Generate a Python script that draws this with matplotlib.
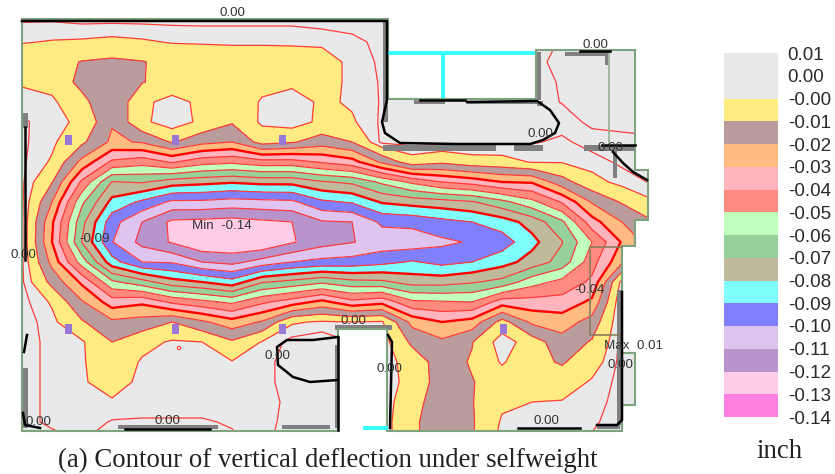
import matplotlib
matplotlib.use('Agg')
import matplotlib.pyplot as plt
import numpy as np
from matplotlib.patches import Polygon, Rectangle

# plan positions of the sampled slab points (picture pixels)
grid_x = [22, 52, 82, 112, 142, 172, 202, 232, 262, 292, 322, 352, 382, 412, 442, 472, 502, 532, 562, 592, 622, 652]
grid_y = [18, 42, 62, 82, 102, 122, 142, 162, 182, 202, 222, 242, 262, 282, 302, 322, 342, 362, 382, 402, 422, 442]

# downward deflection in 0.01 inch, one list per grid_x, top to bottom
sag_columns = [
    [-0.6, -0.05, 0.6, 0.1, -0.3, -0.6, -0.6, -0.6, -0.6, -0.6, -0.6, -0.6, -0.6, -0.6, -0.7, -0.8, -0.8, -0.8, -0.8, -0.8, -0.8, -1],
    [-0.6, 0.05, 0.6, 0.3, -0.15, -0.2, -0.15, 0.1, 0.95, 2.0, 2.85, 3.0, 2.3, 1.3, 0.1, -0.2, -0.3, -0.3, -0.3, -0.3, -0.3, -0.9],
    [-0.7, 0.1, 1.05, 1.3, 0.7, 0.15, 0.8, 2.3, 4.2, 5.8, 6.7, 7.05, 5.5, 3.2, 1.9, 0.9, -0.1, -0.1, -0.1, -0.1, -0.2, -0.5],
    [-0.7, 0.2, 1.2, 1.7, 1.9, 1.9, 2.2, 4.2, 7.05, 8.3, 9.6, 9.95, 8.6, 5.8, 3.5, 1.8, 1.0, 0.7, 0.4, -0.1, -0.55, -1],
    [-0.7, 0.1, 1.05, 1.05, 0.2, 0.2, 1.9, 4.6, 6.9, 9.2, 11.0, 11.3, 10.0, 6.6, 3.2, 1.6, 0.3, -0.1, -0.2, -0.3, -0.55, -1],
    [-0.7, -0.05, 0.7, 0.6, -0.3, -0.45, 0.9, 3.9, 7.5, 10.2, 12.2, 12.1, 10.1, 7.6, 4.2, 1.0, -0.1, -0.2, -0.2, -0.3, -0.55, -1],
    [-0.7, -0.1, 0.8, 0.8, 0.2, 0.2, 1.7, 4.6, 7.7, 10.2, 12.3, 12.9, 11.0, 8.0, 4.7, 1.8, 0.0, -0.1, -0.2, -0.3, -0.55, -1],
    [-0.7, -0.1, 0.5, 0.6, 0.7, 0.9, 2.0, 4.8, 7.9, 10.4, 12.4, 12.9, 11.3, 8.6, 5.2, 2.6, 0.85, -0.05, -0.2, -0.3, -0.45, -0.6],
    [-0.7, -0.1, 0.5, 0.3, -0.1, -0.15, 0.6, 4.4, 7.7, 10.3, 12.2, 12.9, 10.6, 7.1, 4.2, 1.9, -0.05, -0.2, -0.2, -0.2, -0.2, -0.3],
    [-0.7, -0.1, 0.4, 0.2, -0.4, -0.4, 0.9, 4.4, 7.7, 10.2, 12.0, 12.1, 10.0, 6.7, 3.5, 0.1, -0.7, -0.9, -0.9, -0.7, -0.8, -0.9],
    [-0.8, -0.15, 0.4, 0.4, 0.15, 0.2, 1.5, 3.9, 7.1, 9.2, 11.1, 11.4, 9.7, 6.2, 2.7, -0.1, -0.9, -0.9, -0.9, -0.9, -0.9, -0.9],
    [-0.9, -0.3, -0.2, -0.2, -0.1, 0.1, 1.0, 3.4, 6.8, 8.9, 11.0, 11.05, 9.6, 6.7, 3.7, 0.0, -0.5, -0.5, -0.5, -0.5, -0.5, -0.5],
    [-1, -0.7, -0.6, -0.55, -0.55, -0.6, -0.65, 1.8, 5.8, 7.9, 9.8, 10.6, 9.3, 6.8, 3.3, -0.1, -0.4, -0.4, -0.4, -0.4, -0.4, -0.4],
    [-1, -1, -1, -1, -1, -0.8, -0.7, 0.4, 4.8, 7.6, 9.7, 10.6, 8.9, 7.4, 4.8, 2.3, 1.2, 0.4, 0.3, 0.6, 0.8, 0.8],
    [-1, -1, -1, -1, -1, -0.8, -0.7, 0.8, 4.0, 7.4, 9.3, 10.2, 9.3, 7.4, 4.9, 3.0, 1.8, 1.5, 1.5, 1.6, 1.6, 1.6],
    [-1, -1, -1, -1, -1, -0.8, -0.7, 0.4, 3.6, 7.1, 9.0, 9.9, 9.0, 7.1, 5.0, 2.6, 1.05, 0.9, 1.05, 1.05, 1.1, 1.1],
    [-1, -1, -1, -1, -0.8, -0.8, -0.6, 0.3, 3.0, 6.3, 8.5, 9.5, 8.4, 6.7, 3.5, 0.6, -0.45, -0.1, 0.5, 0.15, -0.1, -0.3],
    [-1, -1, -0.7, -0.7, -0.7, -0.7, -0.55, -0.05, 2.9, 5.3, 7.6, 8.3, 7.6, 5.4, 3.6, 2.2, 0.5, 0.7, 0.8, 0.0, -0.2, -0.3],
    [-1, -0.4, -0.3, -0.45, -0.48, -0.7, -0.4, -0.05, 1.4, 3.9, 6.2, 7.05, 6.6, 4.7, 3.6, 2.5, 1.6, 1.1, 0.5, -0.05, -0.3, -0.5],
    [-1, -0.4, -0.3, -0.3, -0.3, -0.4, -0.7, -0.3, 0.3, 1.9, 3.4, 5.0, 4.4, 3.8, 2.8, 1.6, 0.9, 0.4, -0.1, -0.3, -0.4, -0.6],
    [-1, -0.4, -0.3, -0.3, -0.3, -0.4, -0.6, -0.6, -0.25, 0.9, 2.0, 2.9, 2.2, -0.3, -0.7, -0.7, -0.7, -0.7, -0.7, -0.7, -0.8, -1],
    [-1, -1, -0.3, -0.3, -0.3, -0.3, -0.6, -0.6, -0.55, 0.1, 1.1, 1.5, 0.5, -0.7, -0.7, -0.7, -0.7, -0.7, -0.7, -0.7, -0.8, -1],
]

# contour bands, gray covers the two top legend intervals
band_levels = [-5, 0, 1, 2, 3, 4, 5, 6, 7, 8, 9, 10, 11, 12, 13, 14]
band_colors = ['#e9e9e9', '#ffeb82', '#bb9c9c', '#ffbb80', '#ffb5bd', '#ff8a80', '#c0ffbc',
               '#98d09c', '#bfba9c', '#80ffff', '#8080ff', '#e0c4f0', '#b994cc', '#ffcce8', '#ff80e0']
thin_levels = [-0.5, 0, 1, 2, 4, 5, 6, 7, 9, 10, 11, 12]
thick_levels = [3, 8]

legend_colors = ['#e9e9e9', '#e9e9e9'] + band_colors[1:]
legend_labels = ['0.01', '0.00', '-0.00', '-0.01', '-0.02', '-0.03', '-0.04', '-0.05', '-0.06',
                 '-0.07', '-0.08', '-0.09', '-0.10', '-0.11', '-0.12', '-0.13', '-0.14']

# floor plan
outline = [(22, 19), (388, 19), (388, 99), (536, 99), (536, 50), (635, 50), (635, 170), (648, 170),
           (648, 220), (635, 220), (635, 246), (622, 246), (622, 353), (635, 353), (635, 405), (622, 405),
           (622, 431), (387, 431), (387, 329), (338, 329), (338, 431), (22, 431)]
walls = [
    [(22, 21), (387, 21), (387, 100), (382, 122), (385, 133), (400, 143), (457, 144), (530, 144),
     (543, 140), (555, 133), (559, 123), (550, 110), (537, 101), (467, 102)],
    [(420, 100), (465, 100)],
    [(25, 127), (25, 260)],
    [(27, 335), (24, 352)],
    [(23, 413), (25, 425), (40, 428)],
    [(125, 429), (210, 429)],
    [(518, 428), (580, 428)],
    [(622, 292), (622, 420), (617, 425), (597, 425)],
    [(602, 145), (635, 145)],
    [(613, 152), (623, 163), (633, 172), (647, 180)],
    [(580, 51), (610, 51)],
    [(338, 337), (313, 340), (287, 340), (277, 347), (278, 365), (293, 377), (310, 382), (338, 380)],
    [(388, 335), (392, 342), (390, 428)],
    [(338, 337), (338, 430)],
]
beams = [(383, 145, 113, 6), (514, 145, 29, 6), (584, 145, 51, 6), (565, 52, 43, 4), (605, 52, 3, 13),
         (536, 52, 5, 48), (414, 99, 31, 5), (467, 101, 70, 3), (537, 101, 6, 5), (383, 20, 5, 102),
         (613, 150, 4, 28), (23, 113, 5, 15), (23, 368, 5, 60), (118, 425, 100, 4), (282, 425, 48, 4),
         (335, 345, 3, 83), (335, 325, 57, 5), (617, 290, 5, 115), (597, 425, 23, 4), (617, 392, 5, 33)]
column_x = [68, 175, 282, 68, 175, 282, 503]
column_y = [140, 140, 140, 329, 329, 329, 329]
cyan_lines = [[(388, 53), (535, 53)], [(443, 53), (443, 98)], [(363, 428), (388, 428)]]

# value labels printed on the plot
plot_labels = [('0.00', 232, 13), ('0.00', 595, 45), ('0.00', 540, 134), ('0.00', 610, 148),
               ('-0.09', 95, 239), ('Min  -0.14', 222, 226), ('-0.04', 590, 290), ('0.00', 23, 255),
               ('0.00', 353, 321), ('0.00', 277, 356), ('0.00', 389, 369), ('Max  0.01', 634, 346),
               ('0.00', 620, 365), ('0.00', 38, 422), ('0.00', 167, 421), ('0.00', 546, 421)]

sag = np.array(sag_columns).T

fig = plt.figure(figsize=(8.35, 4.74), dpi=100)
ax = fig.add_axes([0, 0, 1, 1])
ax.set_xlim(0, 835)
ax.set_ylim(474, 0)
ax.axis('off')

slab = Polygon(outline, closed=True, facecolor='#e9e9e9', edgecolor='none', zorder=1)
ax.add_patch(slab)

# filled bands and their red lines, clipped to the slab
filled = ax.contourf(grid_x, grid_y, sag, levels=band_levels, colors=band_colors, zorder=2)
filled.set_clip_path(slab)
thin = ax.contour(grid_x, grid_y, sag, levels=thin_levels, colors='#ff3c3c', linewidths=0.9,
                  linestyles='solid', zorder=3)
thin.set_clip_path(slab)
thick = ax.contour(grid_x, grid_y, sag, levels=thick_levels, colors='#ff0000', linewidths=1.7,
                   linestyles='solid', zorder=3)
thick.set_clip_path(slab)

# structure on top of the contours
for x, y, w, h in beams:
    ax.add_patch(Rectangle((x, y), w, h, facecolor='#808080', edgecolor='none', zorder=4))
ax.add_patch(Polygon(outline, closed=True, fill=False, edgecolor='#7fa27f', linewidth=1.5, zorder=5))
ax.plot([609, 609], [50, 145], color='#93b193', linewidth=1.2, zorder=5)
ax.plot([622, 590, 590, 622], [247, 247, 335, 335], color='#8a7d5c', linewidth=1.2, zorder=5)
for line in cyan_lines:
    ax.plot([p[0] for p in line], [p[1] for p in line], color='#33ffff', linewidth=2.8, solid_capstyle='butt', zorder=5)
for line in walls:
    ax.plot([p[0] for p in line], [p[1] for p in line], color='black', linewidth=1.8, zorder=6)
ax.bar(column_x, 10, width=7, bottom=np.array(column_y) - 5, color='#9a78d8', zorder=6)
ax.scatter([179], [348], s=6, facecolor='none', edgecolor='#ff3c3c', linewidths=0.8, zorder=6)

for text, x, y in plot_labels:
    ax.text(x, y, text, family='Liberation Sans', fontsize=9.6, color='#333333', ha='center', va='center', zorder=7)

ax.text(328, 460, '(a) Contour of vertical deflection under selfweight', family='Liberation Serif',
        fontsize=19.3, color='#222222', ha='center', va='center')
ax.text(779, 452, 'inch', family='Liberation Serif', fontsize=19.3, color='#222222', ha='center', va='center')

# legend strip, one block per interval with labels on the block edges
leg = fig.add_axes([724 / 835, 1 - 417 / 474, 54 / 835, 364 / 474])
leg.bar(0, 1, bottom=np.arange(16), width=1, color=legend_colors)
leg.set_xlim(-0.5, 0.5)
leg.set_ylim(16, 0)
leg.set_xticks([])
leg.set_yticks(np.arange(17))
leg.set_yticklabels(legend_labels, family='Liberation Sans', fontsize=13.6, color='#2b2b2b')
leg.yaxis.tick_right()
leg.tick_params(axis='y', length=0, pad=7)
for spine in leg.spines.values():
    spine.set_visible(False)

fig.savefig('out.png', dpi=100)
